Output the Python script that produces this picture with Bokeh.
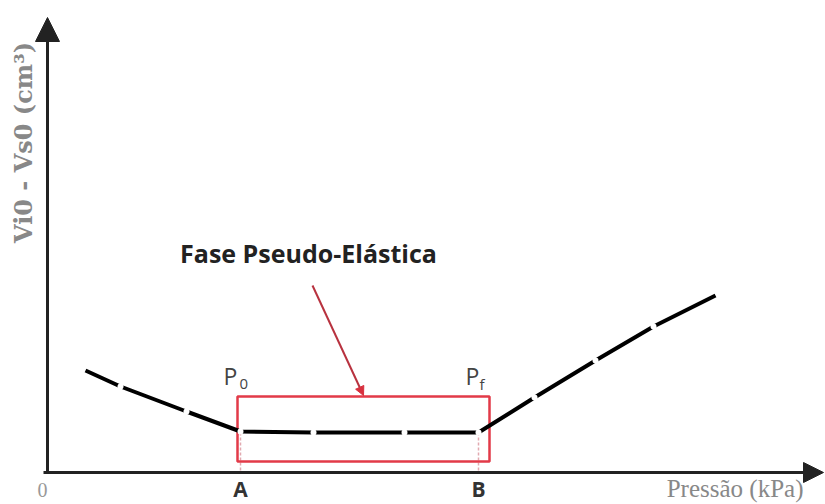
import math
from bokeh.plotting import figure
from bokeh.models import Range1d, Arrow, NormalHead, ColumnDataSource
from bokeh.core.properties import value
from bokeh.embed import file_html
from bokeh.resources import INLINE

# Curve: volume change against applied pressure
pressure = [4.0, 7.5, 14.1, 19.5, 26.8, 35.9, 43.3, 48.9, 55.0, 60.8, 67.0]
volume = [10.2, 8.6, 6.1, 4.1, 4.0, 4.0, 4.0, 7.5, 11.2, 14.6, 17.7]

# Pseudo-elastic window between P0 (A) and Pf (B)
p_start = 19.5
p_final = 43.3
box_x = [19.2, 44.4]
box_y = [1.1, 7.6]

p = figure(width=825, height=504, output_backend="svg", toolbar_location=None,
           x_range=Range1d(-4.5, 78.0), y_range=Range1d(-3.2, 47.2),
           min_border=0)
p.xaxis.visible = False
p.yaxis.visible = False
p.grid.visible = False
p.outline_line_color = None
p.background_fill_color = "white"

# Drop lines from A and B to the pressure axis
p.segment(x0=[p_start, p_final], y0=[4.0, 4.0], x1=[p_start, p_final], y1=[0, 0],
          line_color="#e2a9b0", line_width=1.5, line_dash="3 2")

# Red frame around the plateau
p.quad(left=box_x[0], right=box_x[1], bottom=box_y[0], top=box_y[1],
       fill_color=None, line_color="#e23a48", line_width=2.5)

# Main curve with white point markers breaking the line
src = ColumnDataSource(dict(x=pressure, y=volume))
p.line("x", "y", source=src, line_color="black", line_width=4)
inner = ColumnDataSource(dict(x=pressure[1:-1], y=volume[1:-1]))
p.scatter("x", "y", source=inner, size=6, fill_color="white", line_color=None)

# Axes drawn as arrows
p.add_layout(Arrow(x_start=0.2, y_start=0, x_end=0.2, y_end=45.5,
                   line_color="#222", line_width=3,
                   end=NormalHead(size=24, fill_color="#222", line_color="#222")))
p.add_layout(Arrow(x_start=-0.2, y_start=0, x_end=77.8, y_end=0,
                   line_color="#222", line_width=3,
                   end=NormalHead(size=20, fill_color="#222", line_color="#222")))

# Pointer to the plateau
p.add_layout(Arrow(x_start=26.7, y_start=18.7, x_end=31.8, y_end=7.7,
                   line_color="#b8323f", line_width=2,
                   end=NormalHead(size=9, fill_color="#d8303e", line_color="#d8303e")))

p.text(x=[26.3], y=[22.0], text=["Fase Pseudo-Elástica"],
       text_font=value("Open Sans"), text_font_style="bold", text_font_size="25px",
       text_color="#222", text_align="center", text_baseline="middle")

# P0 / Pf labels
p.text(x=[17.8, 42.0], y=[9.7, 9.7], text=["P", "P"], text_font=value("Open Sans"),
       text_font_size="23px", text_color="#444", text_align="left",
       text_baseline="middle")
p.text(x=[19.4, 43.4], y=[8.9, 8.9], text=["0", "f"], text_font=value("Open Sans"),
       text_font_size="15px", text_color="#444", text_align="left",
       text_baseline="middle")

# Axis point labels
p.text(x=[p_start, p_final], y=[-1.6, -1.6], text=["A", "B"],
       text_font=value("Open Sans"), text_font_style="bold", text_font_size="21px",
       text_color="#333", text_align="center", text_baseline="middle")
p.text(x=[-0.3], y=[-1.7], text=["0"], text_font=value("Liberation Serif"),
       text_font_size="20px", text_color="#999", text_align="center",
       text_baseline="middle")
p.text(x=[75.8], y=[-1.6], text=["Pressão (kPa)"], text_font=value("Liberation Serif"),
       text_font_size="25px", text_color="#888", text_align="right",
       text_baseline="middle")
p.text(x=[-2.2], y=[33.0], text=["Vi0 - Vs0 (cm³)"], angle=math.pi / 2,
       text_font=value("DejaVu Serif"), text_font_style="bold",
       text_font_size="24px", text_color="#888", text_align="center",
       text_baseline="middle")

open("out.html", "w").write(file_html(p, INLINE))
